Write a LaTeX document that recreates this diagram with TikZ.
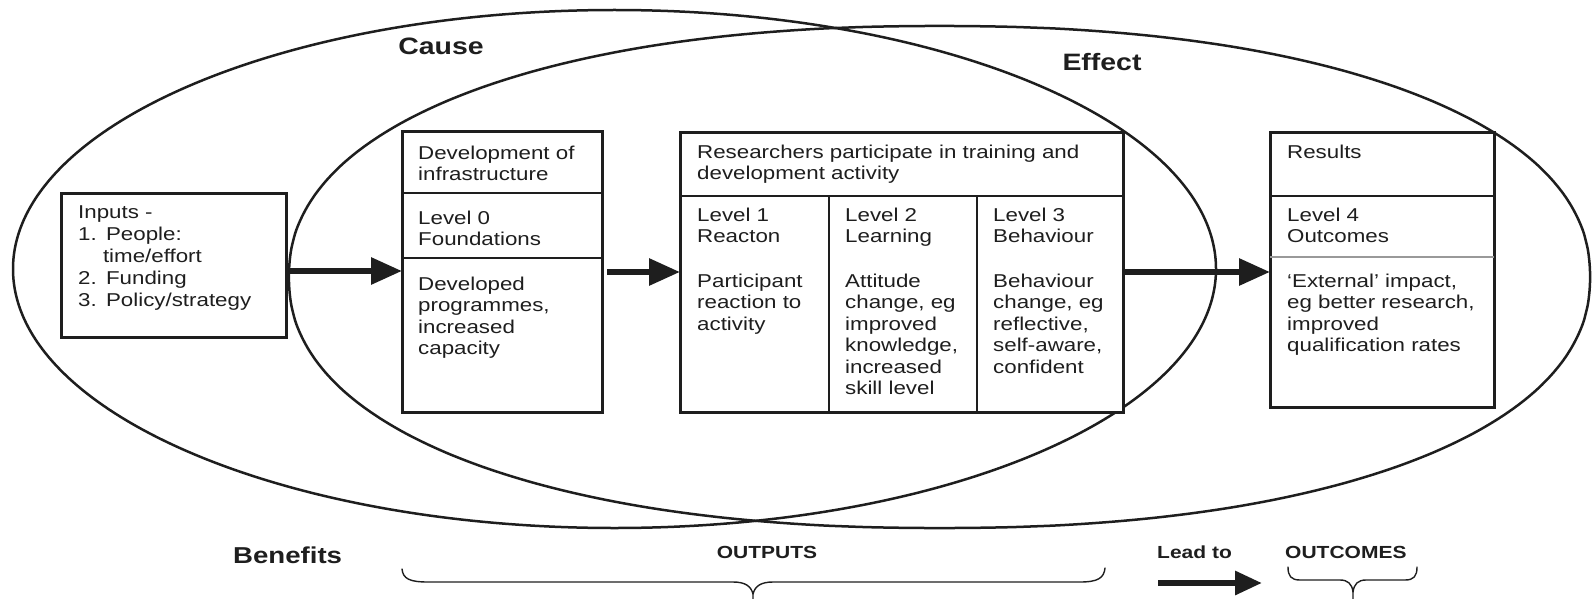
\documentclass[tikz,border=0pt]{standalone}
\usepackage{fontspec}
\setmainfont{Liberation Sans}[FakeStretch=1.2]
\usetikzlibrary{arrows.meta}
\definecolor{ink}{HTML}{1E1E1E}
\begin{document}
\begin{tikzpicture}[x=1pt,y=-1pt,
 box/.style={rectangle,draw=ink,line width=3pt,fill=white,inner sep=0pt,outer sep=0pt},
 rule/.style={draw=ink,line width=2.5pt},
 faint/.style={draw=black!40,line width=1.3pt},
 oval/.style={draw=ink,line width=2.5pt},
 body/.style={anchor=base west,inner sep=0pt,align=left,text=ink,font=\fontsize{18.6}{21.5}\selectfont},
 head/.style={anchor=base,inner sep=0pt,text=ink,font=\bfseries\fontsize{23.7}{28}\selectfont},
 small/.style={anchor=base west,inner sep=0pt,text=ink,font=\bfseries\fontsize{17.5}{20}\selectfont},
 flow/.style={draw=ink,line width=6pt,-{Triangle[length=31pt,width=26pt]}},
 brace/.style={draw=ink,line width=1.4pt,line cap=round}
]
\useasboundingbox (0,0) rectangle (1592,599);
% ovals
\draw[oval] (614.5,269) ellipse [x radius=601.5pt, y radius=259pt];
\draw[oval] plot[smooth cycle, domain=0.75:359.25, samples=240]
  ({939.5+650.5*sign(cos(\x))*pow(abs(cos(\x)),0.9091)},
   {277+251*sign(sin(\x))*pow(abs(sin(\x)),0.9091)});
% boxes
\node[box,minimum width=225pt,minimum height=144pt] (inp) at (173.5,265) {};
\node[box,minimum width=200pt,minimum height=280pt] (lz) at (502,272) {};
\node[box,minimum width=443pt,minimum height=279pt] (mid) at (901.5,272.5) {};
\node[box,minimum width=224pt,minimum height=274pt] (res) at (1382,270) {};
% helper coordinates
\coordinate (hA) at (0,193);
\coordinate (hB) at (0,258);
\coordinate (hM) at (0,196);
\coordinate (hR2) at (0,257);
\coordinate (vA) at (829,0);
\coordinate (vB) at (977,0);
\coordinate (aL) at (0,271);
\coordinate (aM) at (0,272);
\coordinate (s2) at (607,272);
% dividers
\draw[rule] (lz.west |- hA) -- (lz.east |- hA);
\draw[rule] (lz.west |- hB) -- (lz.east |- hB);
\draw[rule] (mid.west |- hM) -- (mid.east |- hM);
\draw[rule] (vA |- hM) -- (vA |- mid.south);
\draw[rule] (vB |- hM) -- (vB |- mid.south);
\draw[rule] (res.west |- hM) -- (res.east |- hM);
\draw[faint] (res.west |- hR2) -- (res.east |- hR2);
% arrows
\draw[flow] (inp.east |- aL) -- (lz.west |- aL);
\draw[flow] (s2) -- (mid.west |- s2);
\draw[flow] (mid.east |- aM) -- (res.west |- aM);
% texts
\node[body,text width=200pt,font=\fontsize{18.6}{22}\selectfont] (tinp) at (78,218)
  {Inputs -\\1. People:\\\hspace*{24.8pt}time/effort\\2. Funding\\3. Policy/strategy};
\node[body,text width=180pt] (tla) at (418,159) {Development of\\infrastructure};
\node[body,text width=180pt] (tlb) at (418,224) {Level 0\\Foundations};
\node[body,text width=180pt] (tlc) at (418,290) {Developed\\programmes,\\increased\\capacity};
\node[body,text width=420pt] (th) at (697,158) {Researchers participate in training and\\development activity};
\node[body,text width=125pt] (toa) at (697,221) {Level 1\\Reacton};
\node[body,text width=125pt] (tob) at (697,287) {Participant\\reaction to\\activity};
\node[body,text width=125pt] (tta) at (845,221) {Level 2\\Learning};
\node[body,text width=125pt] (ttb) at (845,287) {Attitude\\change, eg\\improved\\knowledge,\\increased\\skill level};
\node[body,text width=125pt] (tha) at (993,221) {Level 3\\Behaviour};
\node[body,text width=125pt] (thb) at (993,287) {Behaviour\\change, eg\\reflective,\\self-aware,\\confident};
\node[body,text width=200pt] (tra) at (1287,158) {Results};
\node[body,text width=200pt] (trb) at (1287,221) {Level 4\\Outcomes};
\node[body,text width=200pt] (trc) at (1287,287) {‘External’ impact,\\eg better research,\\improved\\qualification rates};
% labels
\node[head] (cause) at (441,55) {Cause};
\node[head] (effect) at (1102,71) {Effect};
\node[head,anchor=base west,font=\bfseries\fontsize{23}{28}\selectfont] (ben) at (233,563) {Benefits};
\node[small,anchor=base] (outp) at (767,558) {OUTPUTS};
\node[small] (lead) at (1157,558) {Lead to};
\node[small] (outc) at (1285,558) {OUTCOMES};
% lead-to arrow
\coordinate (la) at (1158,583);
\coordinate (lb) at (1262,583);
\draw[flow,-{Triangle[length=27pt,width=23pt]}] (la) -- (lb);
% braces
\draw[brace] (402,569) .. controls (403,579) and (410,582) .. (428,582) -- (733,582)
  .. controls (745,582) and (751,586) .. (753,594) -- (753,602);
\draw[brace] (753,594) .. controls (755,586) and (761,582) .. (773,582) -- (1080,582)
  .. controls (1098,582) and (1104,578) .. (1105,568);
\draw[brace] (1288,567) .. controls (1288,576) and (1291,580) .. (1300,580) -- (1340,580)
  .. controls (1348,580) and (1352,584) .. (1353,592) -- (1353,602);
\draw[brace] (1353,592) .. controls (1354,584) and (1358,580) .. (1366,580) -- (1405,580)
  .. controls (1414,580) and (1417,576) .. (1417,567);
\end{tikzpicture}
\end{document}
